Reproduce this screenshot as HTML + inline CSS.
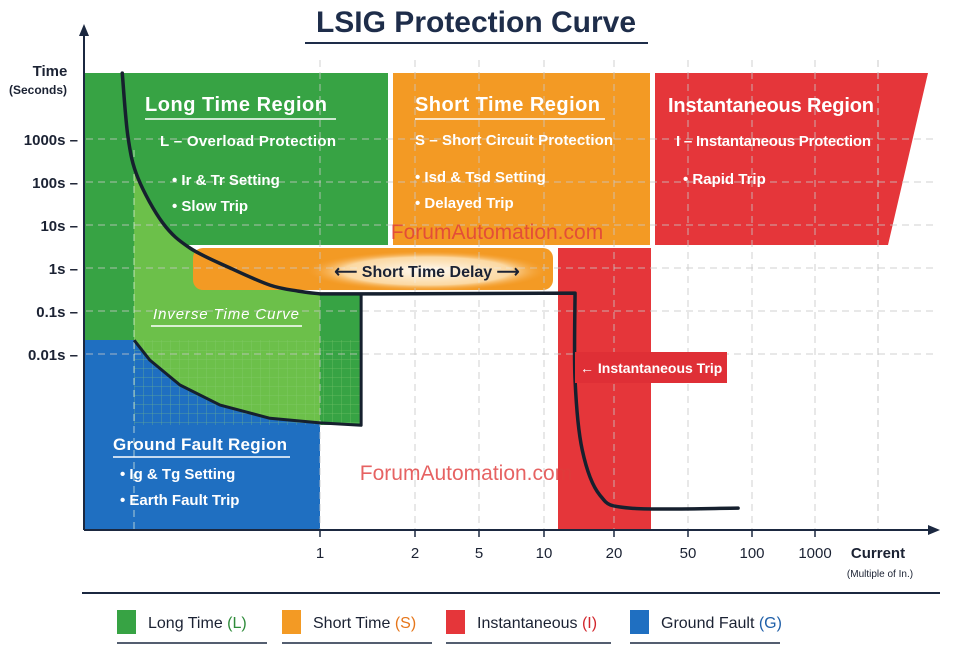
<!DOCTYPE html>
<html><head><meta charset="utf-8">
<style>
html,body{margin:0;padding:0;background:#fff;}
body{width:963px;height:657px;overflow:hidden;font-family:"Liberation Sans",sans-serif;}
svg text{font-family:"Liberation Sans",sans-serif;}
</style></head>
<body>
<svg id="chart" width="963" height="657" viewBox="0 0 963 657">
<defs>
<pattern id="grid" width="9" height="9" patternUnits="userSpaceOnUse">
<path d="M9 0V9M0 9H9" stroke="#8fd07a" stroke-width="0.8" opacity="0.6"/>
</pattern>
<radialGradient id="glow" cx="0.5" cy="0.5" r="0.5">
<stop offset="0" stop-color="#fff" stop-opacity="0.95"/>
<stop offset="0.7" stop-color="#fff3d8" stop-opacity="0.7"/>
<stop offset="1" stop-color="#f7a43a" stop-opacity="0"/>
</radialGradient>
</defs>
<text x="476" y="32" text-anchor="middle" font-size="30" font-weight="bold" fill="#1e2d4a">LSIG Protection Curve</text>
<line x1="305" y1="43" x2="648" y2="43" stroke="#1e2d4a" stroke-width="2"/>
<g id="regions"></g>
<g id="gridlines"></g>
<g id="curves"></g>
<g id="labels"></g>
<g id="axes"></g>
<g id="legend"></g>
</svg>
<script>
// ---- data ----
const yTickVals = [1000, 100, 10, 1, 0.1, 0.01];
const yTickLabels = ["1000s", "100s", "10s", "1s", "0.1s", "0.01s"];
const xTickVals = [1, 2, 5, 10, 20, 50, 100, 1000];
const xTickLabels = ["1", "2", "5", "10", "20", "50", "100", "1000"];
// main LSIG trip curve (current multiple, time seconds)
const mainCurrent = [0.131, 0.139, 0.154, 0.199, 0.263, 0.397, 0.598, 0.8, 1, 1.35, 13.6, 13.6, 14.6, 17.4, 24.4, 86];
const mainTime = [34000, 1100, 123, 11, 2.9, 1, 0.4, 0.29, 0.25, 0.25, 0.26, 0.0025, 0.000059, 0.0000052, 0.0000026, 0.0000026];
// ground fault curve
const gfCurrent = [0.148, 0.174, 0.237, 0.358, 0.598, 1, 1.35, 1.35];
const gfTime = [0.021, 0.0072, 0.0019, 0.00065, 0.00032, 0.00025, 0.00022, 0.25];
const legendNames = ["Long Time", "Short Time", "Instantaneous", "Ground Fault"];
const legendCodes = ["(L)", "(S)", "(I)", "(G)"];

// ---- axis functions (layout) ----
const xKnotV = [0.1, 1, 2, 5, 10, 20, 50, 100, 1000];
const xKnotP = [96, 320, 415, 479, 544, 614, 688, 752, 815];
function xScale(v){
  const lv=Math.log10(v);
  for(let i=0;i<xKnotV.length-1;i++){
    const a=Math.log10(xKnotV[i]),b=Math.log10(xKnotV[i+1]);
    if(lv<=b||i===xKnotV.length-2){return xKnotP[i]+(lv-a)/(b-a)*(xKnotP[i+1]-xKnotP[i]);}
  }
}
function yScale(t){return 268-43*Math.log10(t);}
function smoothSeg(p,start){
  let d=start?"M"+p[0][0]+","+p[0][1]:" L"+p[0][0]+","+p[0][1];
  for(let i=0;i<p.length-1;i++){
    const p0=p[Math.max(0,i-1)],p1=p[i],p2=p[i+1],p3=p[Math.min(p.length-1,i+2)];
    const c1=[p1[0]+(p2[0]-p0[0])/6,p1[1]+(p2[1]-p0[1])/6];
    const c2=[p2[0]-(p3[0]-p1[0])/6,p2[1]-(p3[1]-p1[1])/6];
    d+=" C"+c1.join(",")+" "+c2.join(",")+" "+p2.join(",");
  }
  return d;
}
function mainPath(){
  const P=mainCurrent.map((c,i)=>[xScale(c),yScale(mainTime[i])]);
  const left=[],mid=[],drop=[];
  mainCurrent.forEach((c,i)=>{
    if(c<=1)left.push(P[i]);
    else if(mainTime[i]>=0.2)mid.push(P[i]);
    else drop.push(P[i]);
  });
  let d=smoothSeg(left,true);
  mid.forEach(p=>{d+=" L"+p[0]+","+p[1];});
  if(drop.length){d+=smoothSeg([mid[mid.length-1]].concat(drop),false);}
  return d;
}

const NS="http://www.w3.org/2000/svg";
function mk(parent,tag,attrs,text){
  const e=document.createElementNS(NS,tag);
  for(const k in attrs)e.setAttribute(k,attrs[k]);
  if(text!==undefined)e.textContent=text;
  document.getElementById(parent).appendChild(e);return e;
}
let e;
// ---- regions ----
e=mk("regions","rect",{x:84,y:340,width:236,height:190,fill:"#1f6fc1"});


e=mk("regions","rect",{x:84,y:73,width:304,height:172,fill:"#37a344"});


e=mk("regions","rect",{x:84,y:245,width:50,height:95,fill:"#37a344"});


e=mk("regions","rect",{x:320,y:294,width:41,height:131,fill:"#37a344"});


// light green between curves
let pts=[];
for(let i=0;i<mainCurrent.length;i++){const x=xScale(mainCurrent[i]);if(x>=134&&mainCurrent[i]<=1)pts.push([x,yScale(mainTime[i])]);}
pts.unshift([134,166]);
pts.push([320,yScale(0.00025)]);
for(let i=5;i>=0;i--)pts.push([xScale(gfCurrent[i]),yScale(gfTime[i])]);
e=mk("regions","polygon",{points:pts.map(p=>p.join(",")).join(" "),fill:"#6cc04a"});


e=mk("regions","rect",{x:134,y:340,width:227,height:85,fill:"url(#grid)"});


e=mk("regions","rect",{x:393,y:73,width:257,height:172,fill:"#f39a24"});


e=mk("regions","rect",{x:193,y:248,width:360,height:42,rx:10,fill:"#f39a24"});


e=mk("regions","polygon",{points:"655,73 928,73 888,245 655,245",fill:"#e5363a"});


e=mk("regions","rect",{x:558,y:248,width:93,height:282,fill:"#e5363a"});



// ---- gridlines ----
yTickVals.forEach((v,i)=>{
  const g=mk("gridlines","line",{x1:86,x2:935,y1:yScale(v),y2:yScale(v),stroke:"#c8c8c8","stroke-dasharray":"7 5","stroke-width":1,opacity:0.8});
  
  
});
xTickVals.forEach((v,i)=>{
  const g=mk("gridlines","line",{x1:xScale(v),x2:xScale(v),y1:60,y2:530,stroke:"#c8c8c8","stroke-dasharray":"7 5","stroke-width":1,opacity:0.8});
  
  
});
e=mk("gridlines","line",{x1:878,x2:878,y1:60,y2:530,stroke:"#c8c8c8","stroke-dasharray":"7 5"});


e=mk("gridlines","line",{x1:134,x2:134,y1:150,y2:530,stroke:"#e8f5e0","stroke-dasharray":"7 5",opacity:0.7});



// ---- curves ----
e=mk("curves","path",{d:mainPath(),fill:"none",stroke:"#16202e","stroke-width":3.5,"stroke-linejoin":"round","stroke-linecap":"round"});


e=mk("curves","polyline",{points:gfCurrent.map((c,i)=>xScale(c)+","+yScale(gfTime[i])).join(" "),fill:"none",stroke:"#16202e","stroke-width":3,"stroke-linejoin":"round"});



// ---- labels ----
function lbl(x,y,t,size,fill,name,extra){
  const a={x:x,y:y,"font-size":size,fill:fill,"font-weight":"bold"};
  for(const k in (extra||{}))a[k]=extra[k];
  const el=mk("labels","text",a,t);
  
  
  return el;
}
function uline(x1,x2,y,col,name){
  const el=mk("labels","line",{x1:x1,x2:x2,y1:y,y2:y,stroke:col||"#fff","stroke-width":1.5});
  
  
}
lbl(145,111,"Long Time Region",20,"#fff","long-time-title",{textLength:182});
uline(145,336,119,"#fff","long-time-underline");
lbl(160,146,"L – Overload Protection",15,"#fff","long-time-subtitle",{textLength:176});
lbl(172,185,"• Ir & Tr Setting",15,"#fff","long-time-bullet-1");
lbl(172,211,"• Slow Trip",15,"#fff","long-time-bullet-2");
lbl(415,111,"Short Time Region",20,"#fff","short-time-title",{textLength:185});
uline(415,605,119,"#fff","short-time-underline");
lbl(415,145,"S – Short Circuit Protection",15,"#fff","short-time-subtitle",{textLength:198});
lbl(415,182,"• Isd & Tsd Setting",15,"#fff","short-time-bullet-1");
lbl(415,208,"• Delayed Trip",15,"#fff","short-time-bullet-2");
lbl(668,112,"Instantaneous Region",20,"#fff","inst-title",{textLength:206});
lbl(676,146,"I – Instantaneous Protection",15,"#fff","inst-subtitle",{textLength:195});
lbl(683,184,"• Rapid Trip",15,"#fff","inst-bullet");
e=mk("labels","ellipse",{cx:427,cy:271,rx:120,ry:20,fill:"url(#glow)"});


lbl(427,277,"⟵ Short Time Delay ⟶",16,"#1b2233","short-time-delay-label",{"text-anchor":"middle"});
lbl(153,319,"Inverse Time Curve",15,"#fff","inverse-time-label",{"font-style":"italic","font-weight":"normal",textLength:146});
uline(151,302,326,"#fff","inverse-time-underline");
lbl(113,450,"Ground Fault Region",17,"#fff","ground-fault-title",{textLength:174});
uline(113,290,457,"#fff","ground-fault-underline");
lbl(120,479,"• Ig & Tg Setting",15,"#fff","ground-fault-bullet-1");
lbl(120,505,"• Earth Fault Trip",15,"#fff","ground-fault-bullet-2");
e=mk("labels","rect",{x:575,y:352,width:152,height:31,fill:"#df2f36"});


lbl(580,373,"← Instantaneous Trip",14,"#fff","instantaneous-trip-label");
lbl(497,239,"ForumAutomation.com",21,"#e03c3c","watermark-top",{"text-anchor":"middle","font-weight":"normal",opacity:0.8});
lbl(466,480,"ForumAutomation.com",21,"#e03c3c","watermark-bottom",{"text-anchor":"middle","font-weight":"normal",opacity:0.8});

// ---- axes ----
function ax(tag,a,name,t){const el=mk("axes",tag,a,t);return el;}
ax("line",{x1:84,y1:530,x2:84,y2:32,stroke:"#1b2840","stroke-width":2},"y-axis");
ax("polygon",{points:"84,24 79,36 89,36",fill:"#1b2840"},"y-axis-arrow");
ax("line",{x1:84,y1:530,x2:930,y2:530,stroke:"#1b2840","stroke-width":2},"x-axis");
ax("polygon",{points:"940,530 928,525 928,535",fill:"#1b2840"},"x-axis-arrow");
yTickVals.forEach((v,i)=>{
  const el=mk("axes","text",{x:78,y:yScale(v)+6,"text-anchor":"end","font-size":15,fill:"#1b2233","font-weight":"bold"},yTickLabels[i]+" –");
  
  
});
xTickVals.forEach((v,i)=>{
  const t=mk("axes","line",{x1:xScale(v),x2:xScale(v),y1:530,y2:537,stroke:"#1b2840","stroke-width":1.5});
  
  
  const el=mk("axes","text",{x:xScale(v),y:558,"text-anchor":"middle","font-size":15,fill:"#1b2233"},xTickLabels[i]);
  
  
});
ax("text",{x:50,y:76,"text-anchor":"middle","font-size":15,"font-weight":"bold",fill:"#1b2233"},"y-axis-title","Time");
ax("text",{x:38,y:94,"text-anchor":"middle","font-size":12,"font-weight":"bold",fill:"#1b2233"},"y-axis-subtitle","(Seconds)");
ax("text",{x:878,y:558,"text-anchor":"middle","font-size":15,"font-weight":"bold",fill:"#1b2233"},"x-axis-title","Current");
ax("text",{x:880,y:577,"text-anchor":"middle","font-size":10,fill:"#1b2233"},"x-axis-subtitle","(Multiple of In.)");

// ---- legend ----
const legendColors=["#37a344","#f39a24","#e5363a","#1f6fc1"];
const legendCodeColors=["#2e8b3a","#e6761a","#d2262c","#1f5fa8"];
const legendX=[117,282,446,630];
const lineEl=mk("legend","line",{x1:82,x2:940,y1:593,y2:593,stroke:"#1b2840","stroke-width":2});


legendNames.forEach((n,i)=>{
  const g=mk("legend","g",{});
  
  
  const r=document.createElementNS(NS,"rect");
  r.setAttribute("x",legendX[i]);r.setAttribute("y",610);r.setAttribute("width",19);r.setAttribute("height",24);r.setAttribute("fill",legendColors[i]);
  
  
  g.appendChild(r);
  const t=document.createElementNS(NS,"text");
  t.setAttribute("x",legendX[i]+31);t.setAttribute("y",628);t.setAttribute("font-size",16);t.setAttribute("fill","#1b2233");
  
  
  t.textContent=n+" ";
  const s=document.createElementNS(NS,"tspan");s.setAttribute("fill",legendCodeColors[i]);s.textContent=legendCodes[i];
  t.appendChild(s);g.appendChild(t);
  const u=document.createElementNS(NS,"line");
  u.setAttribute("x1",legendX[i]);u.setAttribute("x2",legendX[i]+(i===2?165:150));u.setAttribute("y1",643);u.setAttribute("y2",643);
  u.setAttribute("stroke","#1b2840");u.setAttribute("stroke-width",1.5);
  
  
  g.appendChild(u);
});
</script>
</body></html>
